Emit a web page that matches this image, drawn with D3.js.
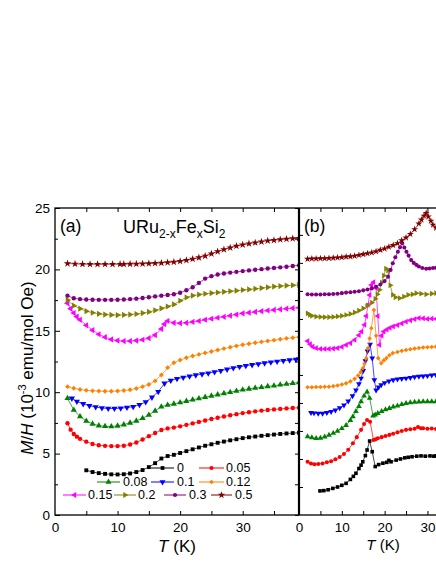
<!DOCTYPE html>
<html><head><meta charset="utf-8">
<script src="https://cdn.jsdelivr.net/npm/d3@7"></script>
<style>body{margin:0;background:#fff}svg{display:block}text{font-family:"Liberation Sans",Arial,Helvetica,sans-serif;fill:#000}</style>
</head><body>
<svg id="c" width="436" height="564"></svg>
<script>
// ---------- series meta ----------
const seriesNames  = ["0","0.05","0.08","0.1","0.12","0.15","0.2","0.3","0.5"];
const seriesColors = ["#000000","#ff0000","#008000","#0000ff","#ff8000","#ff00ff","#808000","#800080","#800000"];
const seriesShapes = ["square","circle","triUp","triDown","diamond","triLeft","triRight","circle","star"];

// ---------- panel (a): M/H (1e-3 emu/mol Oe) vs T (K) ----------
const a_x000 = [[5,3.64],[6,3.5],[7,3.41],[8,3.35],[9,3.31],[10,3.3],[11,3.32],[12,3.38],[13,3.5],[14,3.66],[15,3.9],[16,4.22],[17,4.6],[18,4.8],[19,4.9],[20,5.05],[21,5.2],[22,5.35],[23,5.5],[24,5.64],[25,5.76],[26,5.88],[27,5.98],[28,6.08],[29,6.17],[30,6.26],[31,6.33],[32,6.39],[33,6.45],[34,6.5],[35,6.55],[36,6.6],[37,6.64],[38,6.67],[39,6.7]];
const a_x005 = [[2,7.47],[2.5,6.95],[3,6.6],[3.5,6.38],[4,6.2],[5,5.97],[6,5.78],[7,5.68],[8,5.63],[9,5.61],[10,5.61],[11,5.64],[12,5.74],[13,5.9],[14,6.15],[15,6.42],[16,6.68],[17,6.92],[18,7.05],[19,7.12],[20,7.22],[21,7.34],[22,7.46],[23,7.58],[24,7.7],[25,7.82],[26,7.92],[27,8.02],[28,8.12],[29,8.21],[30,8.3],[31,8.37],[32,8.44],[33,8.5],[34,8.55],[35,8.6],[36,8.64],[37,8.68],[38,8.71],[39,8.74]];
const a_x008 = [[2,9.5],[3,8.55],[4,8.02],[5,7.65],[6,7.42],[7,7.28],[8,7.22],[9,7.2],[10,7.26],[11,7.36],[12,7.5],[13,7.66],[14,7.88],[15,8.14],[16,8.48],[17,8.82],[18,8.96],[19,9.05],[20,9.16],[21,9.27],[22,9.38],[23,9.49],[24,9.6],[25,9.7],[26,9.8],[27,9.9],[28,10.0],[29,10.1],[30,10.2],[31,10.27],[32,10.34],[33,10.4],[34,10.47],[35,10.53],[36,10.6],[37,10.67],[38,10.73],[39,10.8]];
const a_x010 = [[2.7,9.5],[3.5,9.25],[4.5,9.05],[5.5,8.9],[6.5,8.79],[7.5,8.71],[8.5,8.67],[9.5,8.67],[10.5,8.7],[11.5,8.75],[12.5,8.82],[13.5,8.98],[14.5,9.2],[15.5,9.58],[16.5,10.04],[17.5,10.72],[18.5,10.95],[19.5,11.1],[20.5,11.2],[21.5,11.3],[22.5,11.39],[23.5,11.47],[24.5,11.55],[25.5,11.65],[26.5,11.75],[27.5,11.86],[28.5,11.97],[29.5,12.07],[30.5,12.15],[31.5,12.23],[32.5,12.3],[33.5,12.37],[34.5,12.44],[35.5,12.5],[36.5,12.56],[37.5,12.61],[38.5,12.67],[39,12.7]];
const a_x012 = [[2,10.45],[3,10.32],[4,10.22],[5,10.15],[6,10.11],[7,10.09],[8,10.08],[9,10.08],[10,10.1],[11,10.14],[12,10.2],[13,10.3],[14,10.45],[15,10.63],[16,10.92],[17,11.4],[18,12.0],[19,12.4],[20,12.62],[21,12.8],[22,12.95],[23,13.08],[24,13.2],[25,13.32],[26,13.44],[27,13.55],[28,13.66],[29,13.77],[30,13.87],[31,13.95],[32,14.03],[33,14.1],[34,14.17],[35,14.24],[36,14.31],[37,14.38],[38,14.44],[39,14.5]];
const a_x015 = [[2,17.25],[2.5,16.8],[3,16.45],[3.5,16.15],[4,15.9],[5,15.45],[6,15.05],[7,14.72],[8,14.48],[9,14.3],[10,14.2],[11,14.16],[12,14.16],[13,14.2],[14,14.27],[15,14.4],[16,14.65],[17,15.15],[17.5,15.55],[18,15.8],[19,15.65],[20,15.62],[21,15.65],[22,15.72],[23,15.8],[24,15.9],[25,15.98],[26,16.06],[27,16.14],[28,16.23],[29,16.32],[30,16.42],[31,16.48],[32,16.54],[33,16.6],[34,16.65],[35,16.7],[36,16.75],[37,16.8],[38,16.84],[39,16.88]];
const a_x020 = [[2,17.5],[3,17.05],[4,16.8],[5,16.6],[6,16.47],[7,16.38],[8,16.32],[9,16.29],[10,16.28],[11,16.29],[12,16.32],[13,16.37],[14,16.44],[15,16.54],[16,16.67],[17,16.82],[18,16.98],[19,17.15],[20,17.45],[21,17.72],[22,17.87],[23,17.95],[24,18.02],[25,18.07],[26,18.12],[27,18.17],[28,18.22],[29,18.27],[30,18.32],[31,18.37],[32,18.42],[33,18.48],[34,18.54],[35,18.6],[36,18.64],[37,18.68],[38,18.71],[39,18.74]];
const a_x030 = [[2,17.86],[3,17.65],[4,17.58],[5,17.55],[6,17.53],[7,17.52],[8,17.52],[9,17.52],[10,17.53],[11,17.55],[12,17.58],[13,17.62],[14,17.67],[15,17.73],[16,17.8],[17,17.86],[18,17.92],[19,17.98],[20,18.1],[21,18.3],[22,18.55],[23,18.9],[24,19.25],[25,19.45],[26,19.58],[27,19.67],[28,19.74],[29,19.8],[30,19.86],[31,19.92],[32,19.97],[33,20.02],[34,20.07],[35,20.12],[36,20.17],[37,20.22],[38,20.28],[39,20.33]];
const a_x050 = [[2,20.48],[3.2,20.45],[4.4,20.43],[5.6,20.42],[6.8,20.42],[8,20.42],[9.2,20.42],[10.4,20.43],[11,20.43],[12,20.44],[13,20.45],[14,20.46],[15,20.48],[16,20.5],[17,20.53],[18,20.56],[19,20.6],[20,20.66],[21,20.74],[22,20.84],[23,20.96],[24,21.1],[25,21.27],[26,21.45],[27,21.62],[28,21.77],[29,21.9],[30,22.0],[31,22.1],[32,22.18],[33,22.26],[34,22.33],[35,22.38],[36,22.43],[37,22.47],[38,22.51],[39,22.54]];

// ---------- panel (b): offset M/H (arb. units) vs T (K) ----------
const b_x000 = [[4.9,0.86],[5.8,0.87],[6.8,0.9],[7.9,0.95],[9,1.0],[10,1.06],[11,1.13],[12,1.27],[12.7,1.38],[13.3,1.49],[14,1.66],[14.5,1.78],[14.9,1.9],[15.5,2.12],[15.9,2.32],[16.5,2.64],[17.1,2.26],[17.8,1.73],[18.6,1.8],[19.6,1.85],[20.5,1.88],[21,1.95],[21.5,1.9],[22.7,1.96],[23.7,2.0],[24.7,2.04],[25.5,2.06],[26.4,2.08],[27.5,2.1],[28.5,2.11],[29.5,2.1],[30.6,2.11],[31.5,2.1],[32,2.11]];
const b_x005 = [[2,1.9],[2.8,1.84],[3.6,1.81],[4.5,1.82],[5.5,1.84],[6.5,1.88],[7.5,1.92],[8.5,1.99],[9.5,2.07],[10.5,2.18],[11.5,2.33],[12.6,2.56],[13.5,2.78],[14.5,3.04],[15.2,3.25],[15.9,3.39],[16.6,3.33],[17.4,2.68],[17.9,2.7],[18.4,2.74],[19.3,2.78],[20.2,2.82],[21.1,2.86],[22,2.9],[23,2.95],[24,3.0],[25,3.04],[26,3.06],[27,3.08],[27.8,3.14],[28.5,3.1],[29,3.1],[30,3.08],[31,3.09],[32,3.07]];
const b_x008 = [[2,2.8],[3,2.76],[4,2.74],[5,2.75],[6,2.79],[7,2.85],[8,2.92],[9,3.0],[10,3.09],[11,3.2],[12,3.38],[12.6,3.51],[13.3,3.7],[14,3.88],[14.5,4.05],[15.2,4.25],[15.9,4.4],[16.5,4.17],[17.3,3.54],[17.8,3.58],[18.4,3.63],[19.3,3.7],[20.2,3.76],[21.1,3.81],[22,3.86],[23,3.9],[24,3.95],[25,3.99],[26,4.01],[27,4.03],[28,4.04],[29,4.05],[30,4.05],[31,4.05],[32,4.05]];
const b_x010 = [[2.8,3.65],[3.5,3.64],[4.5,3.63],[5.5,3.63],[6.5,3.65],[7.5,3.69],[8.5,3.74],[9.5,3.82],[10.5,3.92],[11.5,4.06],[12.5,4.25],[13.3,4.46],[14,4.68],[14.5,4.88],[15,5.15],[15.5,5.5],[16,5.85],[16.6,6.09],[17.1,5.6],[17.6,4.82],[18,4.46],[18.6,4.56],[19.2,4.64],[20,4.72],[21,4.78],[22,4.82],[23,4.85],[24,4.87],[25,4.88],[26,4.9],[27,4.93],[28,4.95],[29,4.96],[30,4.97],[31,4.99],[32,5.0]];
const b_x012 = [[2,4.56],[3,4.56],[4,4.57],[5,4.57],[6,4.58],[7,4.58],[8,4.6],[9,4.62],[10,4.66],[11,4.7],[12,4.77],[13,4.86],[13.8,4.98],[14.4,5.1],[14.9,5.24],[15.3,5.4],[15.7,5.6],[16.1,5.95],[16.5,6.3],[16.9,6.67],[17.5,7.32],[18,6.4],[18.5,5.6],[19.2,5.42],[19.8,5.52],[20.4,5.6],[21.1,5.7],[21.9,5.78],[23,5.82],[24,5.86],[25,5.89],[26,5.92],[27,5.94],[28,5.96],[29,5.98],[30,5.99],[31,6.0],[32,6.01]];
const b_x015 = [[2,6.21],[2.6,6.1],[3.2,6.01],[4,5.96],[5,5.93],[6,5.93],[7,5.93],[8,5.94],[9,5.96],[10,6.0],[11,6.07],[12,6.14],[13,6.25],[14,6.42],[14.6,6.55],[15.3,6.79],[15.7,7.1],[16.1,7.5],[16.5,7.85],[16.9,8.21],[17.4,8.31],[18,8.1],[18.4,7.1],[18.8,6.07],[19.3,6.4],[19.8,6.55],[20.5,6.62],[21.2,6.68],[22,6.73],[23,6.78],[24,6.84],[25,6.9],[26,6.95],[27,6.99],[28,7.03],[29,7.02],[30,7.0],[31,7.01],[32,7.0]];
const b_x020 = [[2,7.2],[2.5,7.14],[3,7.11],[4,7.08],[5,7.07],[6,7.06],[7,7.06],[8,7.07],[9,7.09],[10,7.11],[11,7.14],[12,7.18],[13,7.23],[14,7.3],[15,7.38],[16,7.48],[17,7.58],[17.8,7.72],[18.3,7.88],[18.8,8.04],[19.3,8.3],[19.8,8.55],[20.3,8.8],[20.8,8.72],[21.3,8.2],[21.9,7.86],[22.5,7.77],[23.5,7.74],[24.5,7.8],[25.5,7.86],[26.5,7.88],[27.4,7.92],[28.5,7.9],[29.7,7.88],[31,7.9],[32,7.92]];
const b_x030 = [[2,7.88],[3,7.87],[4,7.87],[5,7.87],[6,7.88],[7,7.88],[8,7.89],[9,7.9],[10,7.92],[11,7.94],[12,7.95],[13,7.97],[14,7.99],[15,8.02],[16,8.05],[17,8.09],[18,8.15],[19,8.23],[20,8.35],[20.8,8.51],[21.4,8.75],[21.9,8.99],[22.5,9.2],[23.1,9.4],[23.6,9.56],[24.1,9.7],[24.6,9.55],[25.1,9.4],[25.6,9.26],[26.2,9.1],[26.8,9.0],[27.4,8.93],[28,8.87],[28.8,8.82],[29.7,8.79],[30.5,8.8],[31.3,8.82],[32,8.83]];
const b_x050 = [[2,9.14],[3,9.15],[4,9.15],[5,9.16],[6,9.16],[7,9.17],[8,9.18],[9,9.19],[10,9.2],[11,9.22],[12,9.23],[13,9.25],[14,9.28],[15,9.31],[16,9.34],[17,9.37],[18,9.41],[19,9.46],[20,9.51],[21,9.57],[22,9.63],[23,9.7],[24,9.8],[25,9.9],[26,10.03],[27,10.2],[28,10.4],[28.6,10.54],[29.2,10.68],[29.7,10.78],[30.2,10.65],[30.8,10.5],[31.3,10.36],[32,10.25]];

const panelA = [a_x000,a_x005,a_x008,a_x010,a_x012,a_x015,a_x020,a_x030,a_x050];
const panelB = [b_x000,b_x005,b_x008,b_x010,b_x012,b_x015,b_x020,b_x030,b_x050];

// ---------- ticks ----------
const aYMajor = [0,5,10,15,20,25];
const aYMinor = [2.5,7.5,12.5,17.5,22.5];
const aXLabeled = [0,10,20,30];
const aXAll = [5,10,15,20,25,30,35];
const bXLabeled = [0,10,20,30];
const bXAll = [5,10,15,20,25,30];
const bYTicks = [1,2,3,4,5,6,7,8,9,10];

// ---------- layout ----------
const svg = d3.select("#c");
const L = 55, M = 299, R = 436, T0 = 208, B0 = 515;
const xa = d3.scaleLinear().domain([0,39]).range([L,M]);
const ya = d3.scaleLinear().domain([0,25]).range([B0,T0]);
const xb = d3.scaleLinear().domain([0,32]).range([M,R]);
const yb = d3.scaleLinear().domain([0,10.96]).range([B0,T0]);

function symPath(shape, size){
  const map = {square:[d3.symbolSquare,0,1], circle:[d3.symbolCircle,0,1], triUp:[d3.symbolTriangle,0,1.1],
    triDown:[d3.symbolTriangle,180,1.1], triLeft:[d3.symbolTriangle,-90,1.1], triRight:[d3.symbolTriangle,90,1.1],
    diamond:[d3.symbolSquare,45,0.8], star:[d3.symbolStar,0,1.2]};
  const m = map[shape];
  return {d: d3.symbol().type(m[0]).size(size*m[2])(), rot: m[1]};
}

function drawPanel(data, x, y, clipId, msize){
  const g = svg.append("g").attr("clip-path", `url(#${clipId})`);
  data.forEach((s,i)=>{
    const col = seriesColors[i];
    g.append("path").datum(s)
      .attr("fill","none").attr("stroke",col).attr("stroke-width",0.9).attr("stroke-opacity",0.8)
      .attr("d", d3.line().x(d=>x(d[0])).y(d=>y(d[1])));
    const sp = symPath(seriesShapes[i], msize);
    g.selectAll(null).data(s).enter().append("path")
      .attr("d", sp.d).attr("fill", col)
      .attr("transform", d=>`translate(${x(d[0])},${y(d[1])}) rotate(${sp.rot})`);
  });
}

const defs = svg.append("defs");
defs.append("clipPath").attr("id","ca").append("rect").attr("x",L).attr("y",T0).attr("width",M-L).attr("height",B0-T0);
defs.append("clipPath").attr("id","cb").append("rect").attr("x",M).attr("y",T0).attr("width",R-M).attr("height",B0-T0);

drawPanel(panelA, xa, ya, "ca", 15);
drawPanel(panelB, xb, yb, "cb", 13);

// ---------- axes ----------
function styleAxis(g){
  g.select(".domain").remove();
  g.selectAll(".tick line").attr("stroke","#000").attr("stroke-width",1);
  g.selectAll(".tick text").attr("font-size",13.5).attr("font-family",'"Liberation Sans",Arial,sans-serif').attr("fill","#000");
}
// panel a
svg.append("g").attr("transform",`translate(${L},0)`).call(d3.axisLeft(ya).tickValues(aYMajor).tickSize(-5).tickPadding(5).tickFormat(d3.format("d"))).call(styleAxis);
svg.append("g").attr("transform",`translate(${L},0)`).call(d3.axisLeft(ya).tickValues(aYMinor).tickSize(-3).tickFormat("")).call(styleAxis);
svg.append("g").attr("transform",`translate(${M},0)`).call(d3.axisRight(ya).tickValues(aYMajor.concat(aYMinor)).tickSize(-4).tickFormat("")).call(styleAxis);
svg.append("g").attr("transform",`translate(0,${B0})`).call(d3.axisBottom(xa).tickValues(aXAll).tickSize(-4).tickFormat("")).call(styleAxis);
svg.append("g").attr("transform",`translate(0,${B0})`).call(d3.axisBottom(xa).tickValues(aXLabeled).tickSize(0).tickPadding(7).tickFormat(d3.format("d"))).call(styleAxis);
svg.append("g").attr("transform",`translate(0,${T0})`).call(d3.axisTop(xa).tickValues(aXAll).tickSize(-4).tickFormat("")).call(styleAxis);
// panel b
svg.append("g").attr("transform",`translate(${M},0)`).call(d3.axisRight(yb).tickValues(bYTicks).tickSize(4).tickFormat("")).call(styleAxis);
svg.append("g").attr("transform",`translate(0,${B0})`).call(d3.axisBottom(xb).tickValues(bXAll).tickSize(-4).tickFormat("")).call(styleAxis);
svg.append("g").attr("transform",`translate(0,${B0})`).call(d3.axisBottom(xb).tickValues(bXLabeled).tickSize(0).tickPadding(7).tickFormat(d3.format("d"))).call(styleAxis);
svg.append("g").attr("transform",`translate(0,${T0})`).call(d3.axisTop(xb).tickValues(bXAll).tickSize(-4).tickFormat("")).call(styleAxis);

// frames
svg.append("rect").attr("x",L).attr("y",T0).attr("width",R-L+2).attr("height",B0-T0)
  .attr("fill","none").attr("stroke","#000").attr("stroke-width",1.3);
svg.append("line").attr("x1",M).attr("x2",M).attr("y1",T0).attr("y2",B0).attr("stroke","#000").attr("stroke-width",2.2);

// ---------- texts ----------
svg.append("text").attr("x",60).attr("y",232).attr("font-size",17.5).text("(a)");
svg.append("text").attr("x",304).attr("y",232).attr("font-size",17.5).text("(b)");
const ttl = svg.append("text").attr("x",123).attr("y",233).attr("font-size",18);
ttl.append("tspan").text("URu");
ttl.append("tspan").attr("font-size",12).attr("dy",5).text("2-x");
ttl.append("tspan").attr("dy",-5).text("Fe");
ttl.append("tspan").attr("font-size",12).attr("dy",5).text("x");
ttl.append("tspan").attr("dy",-5).text("Si");
ttl.append("tspan").attr("font-size",12).attr("dy",5).text("2");

function tLabel(x,y,fs){
  const t = svg.append("text").attr("x",x).attr("y",y).attr("font-size",fs).attr("text-anchor","middle");
  t.append("tspan").attr("font-style","italic").text("T");
  t.append("tspan").text(" (K)");
}
tLabel(177,552,17);
tLabel(383,550,15);

const yl = svg.append("text").attr("transform","translate(33,368) rotate(-90)").attr("text-anchor","middle").attr("font-size",17);
yl.append("tspan").attr("font-style","italic").text("M");
yl.append("tspan").text("/");
yl.append("tspan").attr("font-style","italic").text("H");
yl.append("tspan").text(" (10");
yl.append("tspan").attr("font-size",11).attr("dy",-7).text("-3");
yl.append("tspan").attr("dy",7).text(" emu/mol Oe)");

// ---------- legend ----------
const legendPos = [ // [lineStart, lineEnd, textX, rowY]
  [151,174,177,468],[199,224,226,468],
  [97,120,123,482],[151,174,177,482],[199,224,226,482],
  [63,86,88,495],[114,136,138,495],[164,186,189,495],[211,232,235,495]
];
const lg = svg.append("g");
seriesNames.forEach((n,i)=>{
  const p = legendPos[i], c = seriesColors[i];
  lg.append("line").attr("x1",p[0]).attr("x2",p[1]).attr("y1",p[3]).attr("y2",p[3]).attr("stroke",c).attr("stroke-width",1);
  const sp = symPath(seriesShapes[i], 14);
  lg.append("path").attr("d",sp.d).attr("fill",c).attr("transform",`translate(${(p[0]+p[1])/2},${p[3]}) rotate(${sp.rot})`);
  lg.append("text").attr("x",p[2]).attr("y",p[3]).attr("dy","0.35em").attr("font-size",12.5).text(n);
});
</script>
</body></html>
